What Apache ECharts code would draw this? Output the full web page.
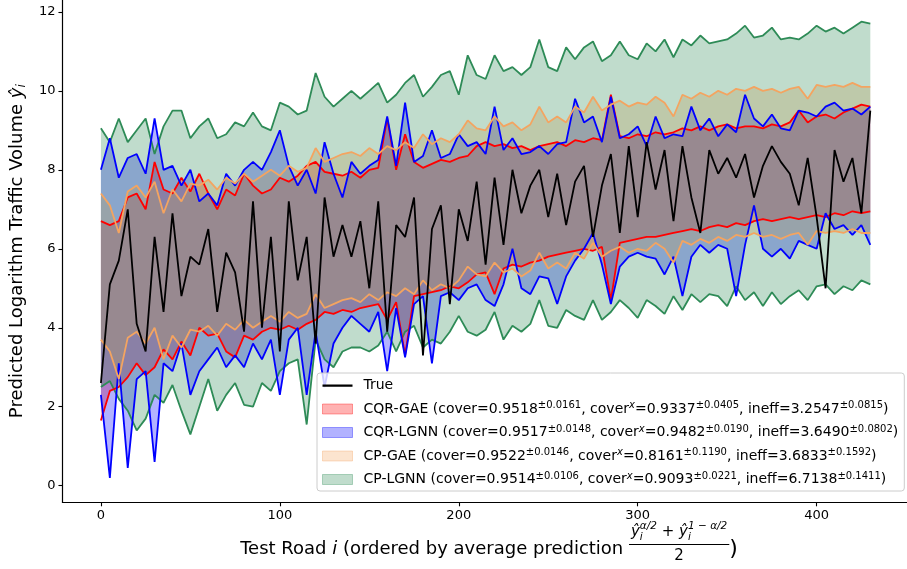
<!DOCTYPE html>
<html><head><meta charset="utf-8">
<script src="https://cdn.jsdelivr.net/npm/echarts@6/dist/echarts.min.js"></script>
<style>html,body{margin:0;padding:0;background:#fff}#c{width:907px;height:569px}</style>
</head><body><div id="c"></div>
<script>
// ---------------- data ----------------
const roadIdx = [0,5,10,15,20,25,30,35,40,45,50,55,60,65,70,75,80,85,90,95,100,105,110,115,120,125,130,135,140,145,150,155,160,165,170,175,180,185,190,195,200,205,210,215,220,225,230,235,240,245,250,255,260,265,270,275,280,285,290,295,300,305,310,315,320,325,330,335,340,345,350,355,360,365,370,375,380,385,390,395,400,405,410,415,420,425,430];

const trueVals = [2.6,5.1,5.7,7.0,4.1,3.4,6.3,4.4,6.9,4.8,5.8,5.6,6.5,4.4,5.9,5.4,3.9,7.2,4.0,6.3,3.4,7.2,5.2,6.3,3.6,7.3,5.8,6.6,5.8,6.7,5.0,7.2,3.9,6.6,6.3,7.3,3.3,6.5,7.1,4.6,7.0,6.2,7.7,5.6,7.8,6.1,8.0,6.9,7.6,8.0,6.8,7.9,6.6,7.7,8.1,6.3,7.6,8.4,6.4,8.6,6.8,8.7,7.5,8.5,6.7,8.6,7.3,6.4,8.5,7.9,8.3,7.8,8.4,7.3,8.1,8.6,8.2,7.9,7.1,8.3,6.8,5.0,8.5,7.7,8.3,6.9,9.5];

const cqrGaeUpper = [6.7,6.6,6.7,7.3,7.4,7.0,8.2,7.5,7.4,7.8,7.45,7.9,7.4,7.0,7.5,7.35,7.9,7.6,7.4,7.5,7.8,7.7,7.85,8.1,8.2,7.95,7.9,7.85,7.95,7.8,8.0,8.05,9.3,8.0,8.9,8.2,8.05,8.15,8.25,8.2,8.3,8.35,8.6,8.7,8.6,8.65,8.55,8.6,8.5,8.6,8.65,8.7,8.6,8.75,8.7,8.8,8.75,9.9,8.85,8.8,8.9,8.85,8.95,8.9,8.95,9.05,9.0,9.1,9.0,9.1,9.15,9.05,9.1,9.1,9.05,9.15,9.1,9.2,9.5,9.2,9.35,9.4,9.3,9.45,9.55,9.65,9.6];
const cqrGaeLower = [1.65,2.4,2.5,2.75,3.1,2.8,3.0,3.45,3.2,3.65,3.3,4.0,3.8,3.85,3.4,3.25,3.8,3.7,3.9,4.0,3.95,4.05,3.95,4.1,4.2,4.4,4.35,4.45,4.4,4.5,4.55,4.6,4.2,4.65,3.3,4.8,4.85,4.9,4.95,5.05,5.0,5.15,5.35,5.4,4.85,5.5,5.6,5.55,5.65,5.7,5.8,5.85,5.9,5.95,6.0,5.95,6.05,4.7,6.15,6.2,6.25,6.3,6.3,6.35,6.4,6.45,6.5,6.45,6.55,6.6,6.55,6.65,6.6,6.7,6.75,6.7,6.75,6.8,6.75,6.8,6.85,6.8,6.9,6.85,6.95,6.9,6.95];

const cqrLgnnUpper = [8.0,8.8,7.8,8.3,8.4,7.9,9.3,8.0,8.1,7.6,8.0,7.2,7.4,7.1,7.9,7.6,8.0,8.2,8.0,8.45,9.0,8.1,7.6,8.0,7.4,8.7,7.9,7.3,8.2,7.9,8.1,8.25,9.35,8.1,9.7,8.2,8.35,9.0,8.3,8.4,8.9,8.6,8.7,8.4,9.6,8.5,8.8,8.4,8.45,8.6,8.4,8.65,8.7,9.8,9.2,9.35,8.7,9.85,8.8,8.9,9.1,8.6,9.35,8.8,8.9,8.85,9.6,9.0,9.3,8.85,9.15,8.95,9.9,9.3,9.1,9.4,9.05,9.0,9.5,9.45,9.35,9.6,9.7,9.5,9.55,9.4,9.6];
const cqrLgnnLower = [2.3,0.2,3.1,0.45,2.7,2.9,0.6,3.1,2.9,3.6,2.3,2.9,3.2,3.5,3.0,3.3,3.0,3.6,3.2,3.7,2.3,3.7,4.0,2.3,3.9,2.5,3.6,4.0,4.3,4.1,3.9,4.4,2.9,4.5,3.25,4.6,4.8,3.1,4.8,4.9,4.7,5.0,5.1,4.7,4.55,5.1,6.0,5.0,4.85,5.3,5.25,4.6,5.3,5.7,6.0,6.4,5.6,4.6,5.55,5.8,5.9,5.8,5.75,5.35,5.8,4.8,5.8,6.1,5.9,6.1,6.0,4.8,6.1,7.1,6.0,5.8,6.0,5.75,6.2,6.1,6.0,6.9,6.5,6.6,6.35,6.6,6.1];

const cpGaeUpper = [7.4,7.1,6.4,7.45,7.6,7.3,7.7,6.9,7.5,7.2,7.65,7.6,7.75,7.5,7.8,7.65,7.9,7.7,7.85,8.0,7.85,8.1,7.95,8.05,8.55,8.2,8.3,8.4,8.45,8.35,8.55,8.4,8.6,8.5,8.7,8.55,8.9,8.65,8.8,8.7,8.9,9.25,9.05,9.0,9.35,9.1,9.2,9.0,9.15,9.6,9.2,9.35,9.2,9.6,9.45,9.85,9.5,9.65,9.75,9.6,9.7,9.65,9.85,9.7,9.35,9.9,9.8,9.95,9.85,10.0,9.9,10.05,10.0,10.1,10.0,10.05,9.95,10.05,10.1,9.8,10.15,10.1,10.15,10.1,10.2,10.1,10.1];
const cpGaeLower = [3.7,3.4,2.7,3.75,3.9,3.6,4.0,3.2,3.8,3.5,3.95,3.9,4.05,3.8,4.1,3.95,4.2,4.0,4.15,4.3,4.15,4.4,4.25,4.35,4.85,4.5,4.6,4.7,4.75,4.65,4.85,4.7,4.9,4.8,5.0,4.85,5.2,4.95,5.1,5.0,5.2,5.55,5.35,5.3,5.65,5.4,5.5,5.3,5.45,5.9,5.5,5.65,5.5,5.9,5.75,6.15,5.8,5.95,6.05,5.9,6.0,5.95,6.15,6.0,5.65,6.2,6.1,6.25,6.15,6.3,6.2,6.35,6.3,6.4,6.3,6.35,6.25,6.35,6.4,6.1,6.45,6.4,6.45,6.4,6.5,6.4,6.4];

const cpLgnnUpper = [9.05,8.7,9.3,8.7,9.0,9.3,8.4,9.1,9.5,9.5,8.8,9.1,9.3,8.8,8.9,9.2,9.1,9.45,9.1,9.0,9.7,9.6,9.4,9.5,10.45,9.85,9.6,9.8,10.0,9.8,10.0,10.2,9.7,9.9,10.2,10.4,9.85,10.1,10.4,10.5,9.9,10.9,10.4,10.3,10.9,10.5,10.6,10.4,10.6,11.3,10.6,10.5,11.1,10.8,11.1,11.25,10.75,10.9,11.25,10.9,10.8,11.2,11.0,11.3,10.85,11.3,11.15,11.4,11.2,11.25,11.3,11.45,11.65,11.35,11.4,11.6,11.3,11.35,11.3,11.45,11.65,11.5,11.6,11.45,11.6,11.75,11.7];
const cpLgnnLower = [2.5,2.65,2.2,1.9,1.4,1.7,2.3,2.1,2.55,1.9,1.3,2.0,2.7,1.9,2.3,2.6,2.05,2.0,2.6,2.4,2.9,3.1,3.2,1.55,3.7,3.2,3.0,3.4,3.5,3.5,3.4,3.55,3.9,3.4,3.9,4.05,3.5,3.7,3.6,3.9,4.3,3.9,3.8,3.95,4.4,3.7,4.05,3.9,4.1,4.7,4.05,4.0,4.45,4.3,4.2,4.7,4.2,4.4,4.7,4.5,4.25,4.7,4.55,4.35,4.8,4.45,4.85,4.65,4.85,4.8,4.55,5.05,4.7,4.9,4.55,4.9,4.6,4.8,4.95,4.7,5.05,5.1,4.85,5.05,4.95,5.2,5.1];

const methodNames = ['CQR-GAE','CQR-LGNN','CP-GAE','CP-LGNN'];
const coverMean  = [0.9518, 0.9517, 0.9522, 0.9514];
const coverStd   = [0.0161, 0.0148, 0.0146, 0.0106];
const coverXMean = [0.9337, 0.9482, 0.8161, 0.9093];
const coverXStd  = [0.0405, 0.0190, 0.1190, 0.0221];
const ineffMean  = [3.2547, 3.6490, 3.6833, 6.7138];
const ineffStd   = [0.0815, 0.0802, 0.1592, 0.1411];

const xTicks = [0, 100, 200, 300, 400];
const yTicks = [0, 2, 4, 6, 8, 10, 12];

// ---------------- chart ----------------
const FONT = '"DejaVu Sans", sans-serif';
const methodColors = ['#ff0000', '#0000ff', '#f4a460', '#2e8b57'];
const methodFills = ['rgba(255,0,0,0.3)', 'rgba(0,0,255,0.3)', 'rgba(244,164,96,0.3)', 'rgba(46,139,87,0.3)'];
const lowers = [cqrGaeLower, cqrLgnnLower, cpGaeLower, cpLgnnLower];
const uppers = [cqrGaeUpper, cqrLgnnUpper, cpGaeUpper, cpLgnnUpper];

const pairs = arr => roadIdx.map((x, k) => [x, arr[k]]);
const series = [];
// filled bands (drawn first): red, blue, orange, green
for (let m = 0; m < 4; m++) {
  series.push({
    name: methodNames[m], type: 'custom', silent: true, clip: true,
    itemStyle: { color: methodFills[m] },
    data: roadIdx.map((x, k) => [x, lowers[m][k], uppers[m][k]]),
    encode: { x: 0, y: [1, 2] },
    renderItem: (function (mm) {
      return function (params, api) {
        if (params.dataIndex !== 0) return null;
        const pts = [];
        for (let k = 0; k < roadIdx.length; k++) pts.push(api.coord([roadIdx[k], uppers[mm][k]]));
        for (let k = roadIdx.length - 1; k >= 0; k--) pts.push(api.coord([roadIdx[k], lowers[mm][k]]));
        return { type: 'polygon', shape: { points: pts }, style: { fill: methodFills[mm] } };
      };
    })(m)
  });
}
// bound lines: green, red, blue, orange
[3, 0, 1, 2].forEach(m => {
  [uppers[m], lowers[m]].forEach((arr, j) => {
    series.push({
      name: 'line' + m + '_' + j, type: 'line', symbol: 'none', silent: true,
      data: pairs(arr), lineStyle: { color: methodColors[m], width: 1.8 }
    });
  });
});
series.push({
  name: 'True', type: 'line', symbol: 'none', silent: true,
  data: pairs(trueVals), itemStyle: { color: '#000' },
  lineStyle: { color: '#000', width: 1.8 }
});

const f4 = v => v.toFixed(4);
function legendText(name) {
  const k = methodNames.indexOf(name);
  if (k < 0) return '{f|' + name + '}';
  return '{f|' + name + ' (cover=' + f4(coverMean[k]) + '}{s|±' + f4(coverStd[k]) +
    '}{t|, cover}{x|x}{t|=' + f4(coverXMean[k]) + '}{s|±' + f4(coverXStd[k]) +
    '}{t|, ineff=' + f4(ineffMean[k]) + '}{s|±' + f4(ineffStd[k]) + '}{t|)}';
}

// x-axis title with a fraction, built from measured text widths
const cv = document.createElement('canvas').getContext('2d');
function W(t, size, it) { cv.font = (it ? 'italic ' : '') + size + 'px "DejaVu Sans"'; return cv.measureText(t).width; }
const S = 18, SN = 15, SS = 10.5;
const p1 = 'Test Road ', p2 = 'i', p3 = ' (ordered by average prediction ', p5 = ')';
const sup1 = 'α/2', sup2 = '1 − α/2', sub = 'i';
const wy = W('ŷ', SN, true);
const c1 = Math.max(W(sup1, SS, true), W(sub, SS, true));
const c2 = Math.max(W(sup2, SS, true), W(sub, SS, true));
const wplus = W(' + ', SN);
const numW = wy + c1 + wplus + wy + c2;
const fracW = numW + 4;
const total = W(p1, S) + W(p2, S, true) + W(p3, S) + fracW + W(p5, S + 4);
const cx = 489, yMain = 549, yNum = 532, yBar = 544.5, yDen = 556;
let xx = cx - total / 2;
const g = [];
function txt(t, x, y, size, it, align) {
  g.push({ type: 'text', x: x, y: y, silent: true, style: { text: t, fontSize: size, fontFamily: FONT, fontStyle: it ? 'italic' : 'normal', fill: '#000', align: align || 'left', verticalAlign: 'middle' } });
}
txt(p1, xx, yMain, S); xx += W(p1, S);
txt(p2, xx, yMain, S, true); xx += W(p2, S, true);
txt(p3, xx, yMain, S); xx += W(p3, S);
const fx = xx;
let nx = fx + 2;
txt('ŷ', nx, yNum, SN, true); nx += wy;
txt(sup1, nx, yNum - 6, SS, true); txt(sub, nx, yNum + 5, SS, true); nx += c1;
txt(' + ', nx, yNum, SN); nx += wplus;
txt('ŷ', nx, yNum, SN, true); nx += wy;
txt(sup2, nx, yNum - 6, SS, true); txt(sub, nx, yNum + 5, SS, true); nx += c2;
g.push({ type: 'line', silent: true, shape: { x1: fx, y1: yBar, x2: fx + fracW, y2: yBar }, style: { stroke: '#000', lineWidth: 1 } });
txt('2', fx + fracW / 2, yDen, SN, false, 'center');
xx += fracW;
txt(p5, xx, yMain, S + 4);

const lineIcon = 'path://M0,0L0,0.01L0.01,0Z M0,4L30,4L30,6.2L0,6.2Z M30,10L30,9.99L29.99,10Z';

const chart = echarts.init(document.getElementById('c'), null, { renderer: 'canvas' });
chart.setOption({
  animation: false,
  backgroundColor: '#fff',
  grid: { left: 62.3, right: -7, top: -1, bottom: 66.7, containLabel: false },
  xAxis: {
    type: 'value', min: -21.5, max: 450.5,
    axisLine: { onZero: false, lineStyle: { color: '#000', width: 1.2 } },
    axisTick: { customValues: xTicks, length: 4, lineStyle: { color: '#000', width: 1.1 } },
    axisLabel: { customValues: xTicks, margin: 7, fontSize: 13, fontFamily: FONT, color: '#000' },
    splitLine: { show: false }
  },
  yAxis: {
    type: 'value', min: -0.42, max: 12.3,
    axisLine: { show: true, onZero: false, lineStyle: { color: '#000', width: 1.2 } },
    axisTick: { show: true, customValues: yTicks, length: 4, lineStyle: { color: '#000', width: 1.1 } },
    axisLabel: { customValues: yTicks, margin: 7, fontSize: 13, fontFamily: FONT, color: '#000' },
    splitLine: { show: false },
    name: '{a|Predicted Logarithm Traffic Volume }{v|ŷ}{s|i}',
    nameLocation: 'middle', nameRotate: 90, nameGap: 33,
    nameTextStyle: {
      fontSize: 18, fontFamily: FONT, color: '#000',
      rich: {
        a: { fontSize: 18, fontFamily: FONT, color: '#000', lineHeight: 22 },
        v: { fontSize: 18, fontFamily: FONT, fontStyle: 'italic', color: '#000', lineHeight: 22 },
        s: { fontSize: 12, fontFamily: FONT, fontStyle: 'italic', color: '#000', verticalAlign: 'bottom', lineHeight: 22 }
      }
    }
  },
  legend: {
    orient: 'vertical', left: 317, top: 373, padding: [4, 6, 3, 5], itemGap: 6.5,
    itemWidth: 30, itemHeight: 10,
    backgroundColor: 'rgba(255,255,255,0.8)', borderColor: '#cccccc', borderWidth: 1, borderRadius: 3,
    selectedMode: false,
    data: [
      { name: 'True', icon: lineIcon, itemStyle: { color: '#000', borderWidth: 0 } },
      { name: 'CQR-GAE', icon: 'rect', itemStyle: { color: 'rgba(255,0,0,0.3)', borderColor: 'rgba(255,0,0,0.35)', borderWidth: 1 } },
      { name: 'CQR-LGNN', icon: 'rect', itemStyle: { color: 'rgba(0,0,255,0.3)', borderColor: 'rgba(0,0,255,0.35)', borderWidth: 1 } },
      { name: 'CP-GAE', icon: 'rect', itemStyle: { color: 'rgba(244,164,96,0.3)', borderColor: 'rgba(244,164,96,0.35)', borderWidth: 1 } },
      { name: 'CP-LGNN', icon: 'rect', itemStyle: { color: 'rgba(46,139,87,0.3)', borderColor: 'rgba(46,139,87,0.35)', borderWidth: 1 } }
    ],
    formatter: legendText,
    textStyle: {
      fontSize: 14, fontFamily: FONT, color: '#000', lineHeight: 17,
      rich: {
        f: { fontSize: 14, fontFamily: FONT, color: '#000', lineHeight: 17, padding: [0, 0, 0, 6] },
        t: { fontSize: 14, fontFamily: FONT, color: '#000', lineHeight: 17 },
        s: { fontSize: 10, fontFamily: FONT, color: '#000', lineHeight: 11, verticalAlign: 'top' },
        x: { fontSize: 10, fontFamily: FONT, fontStyle: 'italic', color: '#000', lineHeight: 11, verticalAlign: 'top' }
      }
    }
  },
  graphic: g,
  series: series
});
</script></body></html>
